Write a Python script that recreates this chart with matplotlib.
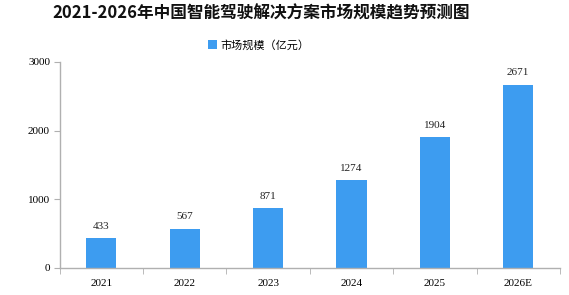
import numpy as np
import matplotlib.pyplot as plt

plt.rcParams['font.family'] = ['Noto Sans CJK SC', 'DejaVu Sans']

years = ['2021', '2022', '2023', '2024', '2025', '2026E']
market_size = [433, 567, 871, 1274, 1904, 2671]

bar_color = '#3d9cf0'
axis_color = '#b0b0b0'

fig = plt.figure(figsize=(5.69, 2.95), dpi=100)
ax = fig.add_axes([0.105, 0.092, 0.879, 0.698])

x = np.arange(len(years))
bars = ax.bar(x, market_size, width=0.36, color=bar_color, label='市场规模（亿元）', zorder=2)

for xi, v in zip(x, market_size):
    ax.text(xi, v + 110, str(v), ha='center', va='bottom', fontsize=8,
            family='Liberation Serif', color='#222222')

ax.set_xlim(-0.5, len(years) - 0.5)
ax.set_ylim(0, 3000)
ax.set_yticks([0, 1000, 2000, 3000])
ax.set_xticks(x)
ax.set_xticklabels(years)
ax.set_xticks(np.arange(-0.5, len(years), 1.0), minor=True)
ax.tick_params(axis='x', which='major', length=0, pad=8, labelsize=8)
ax.tick_params(axis='x', which='minor', length=4, direction='out', color=axis_color)
ax.tick_params(axis='y', length=4, color=axis_color, labelsize=8, pad=3)
for lab in ax.get_xticklabels() + ax.get_yticklabels():
    lab.set_family('Liberation Serif')

for side in ['top', 'right']:
    ax.spines[side].set_visible(False)
for side in ['left', 'bottom']:
    ax.spines[side].set_color(axis_color)
    ax.spines[side].set_linewidth(1)

fig.text(0.459, 0.955, '2021-2026年中国智能驾驶解决方案市场规模趋势预测图', ha='center', va='center',
         fontsize=12, fontweight='bold', color='#111111')
fig.legend(loc='center', bbox_to_anchor=(0.454, 0.847), frameon=False, fontsize=8,
           handlelength=0.8, handleheight=0.8, handletextpad=0.3)

fig.savefig('out.png', dpi=100)
